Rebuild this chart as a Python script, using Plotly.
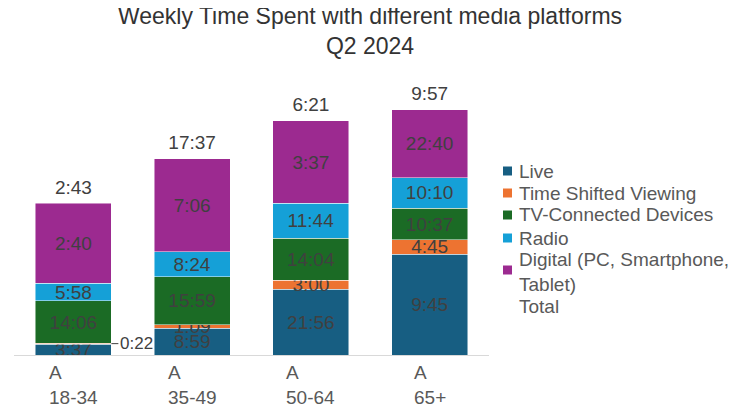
import plotly.graph_objects as go

# Weekly minutes per age group (labels are shown Excel-style, h:mm wrapping at 24h)
groups = ["18-34", "35-49", "50-64", "65+"]
group_prefix = "A"
series_names = ["Live", "Time Shifted Viewing", "TV-Connected Devices", "Radio",
                "Digital (PC, Smartphone,<br>Tablet)"]
live = [217, 539, 1316, 2025]
time_shifted = [22, 69, 180, 285]
tv_connected = [846, 959, 844, 637]
radio = [358, 504, 704, 610]
digital = [1600, 1866, 1657, 1360]
colors = ["#175E82", "#ED7331", "#1B6B25", "#15A0D7", "#9C2A90"]

all_series = [live, time_shifted, tv_connected, radio, digital]
totals = [sum(v) for v in zip(*all_series)]


def fmt(minutes):
    # mimic the h:mm display of the source workbook (wraps at 24h)
    return f"{(minutes // 60) % 24}:{minutes % 60:02d}"


# page body has an 8px margin, so the figure is a bit smaller than the window
OFF = 8
W, H = 740 - OFF, 417 - OFF
L, R, T, B = 14 - OFF, 251, 50 - OFF, 62
plot_w, plot_h = W - L - R, H - T - B


def px_x(px):
    # screen pixel -> paper x
    return (px - OFF - L) / plot_w


def px_y(py):
    # screen pixel -> paper y
    return (H - B - (py - OFF)) / plot_h


font = "Liberation Sans, Arial, sans-serif"
txt_col = "#404040"
fs = 19
fig = go.Figure()

for name, vals, col in zip(series_names, all_series, colors):
    texts = [fmt(v) for v in vals]
    if vals is time_shifted:
        texts[0] = ""  # too thin, labelled outside with a leader line
    fig.add_trace(go.Bar(
        x=groups, y=vals, name=name, text=texts,
        textposition="inside", insidetextanchor="middle",
        textfont=dict(color=txt_col, size=fs),
        marker=dict(color=col, line=dict(color="rgba(255,255,255,0.6)", width=0.8)),
        constraintext="none", showlegend=False,
    ))

# totals shown as text above each stack
fig.add_trace(go.Scatter(
    x=groups, y=totals, name="Total", mode="markers+text",
    text=[fmt(t) for t in totals], textposition="top center",
    textfont=dict(color=txt_col, size=fs),
    marker=dict(color="rgba(0,0,0,0)", size=6), showlegend=False,
))

# thin segment label with leader line
fig.add_annotation(
    x=0.32, y=live[0] + time_shifted[0] / 2, xref="x", yref="y",
    text=fmt(time_shifted[0]), showarrow=True, arrowhead=0, arrowwidth=1,
    arrowcolor=txt_col, ax=7, ay=0, xanchor="left",
    font=dict(color=txt_col, size=17),
)

# category labels (two left-aligned lines)
for g in groups:
    fig.add_annotation(
        x=g, y=0, xref="x", yref="y", yshift=-30, yanchor="middle",
        text=f"{group_prefix}<br>{g}", align="left", showarrow=False,
        font=dict(color="#595959", size=fs),
    )

# legend drawn by hand to get the tight row spacing of the original
legend_rows = [171, 193, 215, 238, 272, 306]
legend_names = series_names + ["Total"]
legend_cols = colors + [None]
for name, col, yc in zip(legend_names, legend_cols, legend_rows):
    fig.add_annotation(
        x=px_x(517), y=px_y(yc), xref="paper", yref="paper",
        xanchor="left", yanchor="middle", align="left", showarrow=False,
        text=name, font=dict(color="#595959", size=fs),
    )
    if col:
        ym = yc - 2 if "<br>" in name else yc
        fig.add_shape(
            type="rect", xref="paper", yref="paper",
            x0=px_x(503), x1=px_x(512), y0=px_y(ym + 4.5), y1=px_y(ym - 4.5),
            fillcolor=col, line=dict(width=0),
        )

fig.update_layout(
    width=W, height=H,
    barmode="stack", bargap=0.36,
    uniformtext=dict(minsize=fs, mode="show"),
    paper_bgcolor="white", plot_bgcolor="white",
    font=dict(family=font, color=txt_col, size=fs),
    title=dict(text="Weekly Time Spent with different media platforms<br>Q2 2024",
               x=(370 - OFF) / W, xref="container", xanchor="center",
               y=1 - 16 / H, yref="container", yanchor="middle",
               font=dict(size=23, color="#333333")),
    margin=dict(l=L, r=R, t=T, b=B, autoexpand=False),
    showlegend=False,
    xaxis=dict(showticklabels=False, showline=True, linecolor="#D9D9D9",
               linewidth=1, ticks="", showgrid=False, zeroline=False),
    yaxis=dict(visible=False, range=[0, 6120], showgrid=False, zeroline=False),
)

fig.write_html("out.html")
